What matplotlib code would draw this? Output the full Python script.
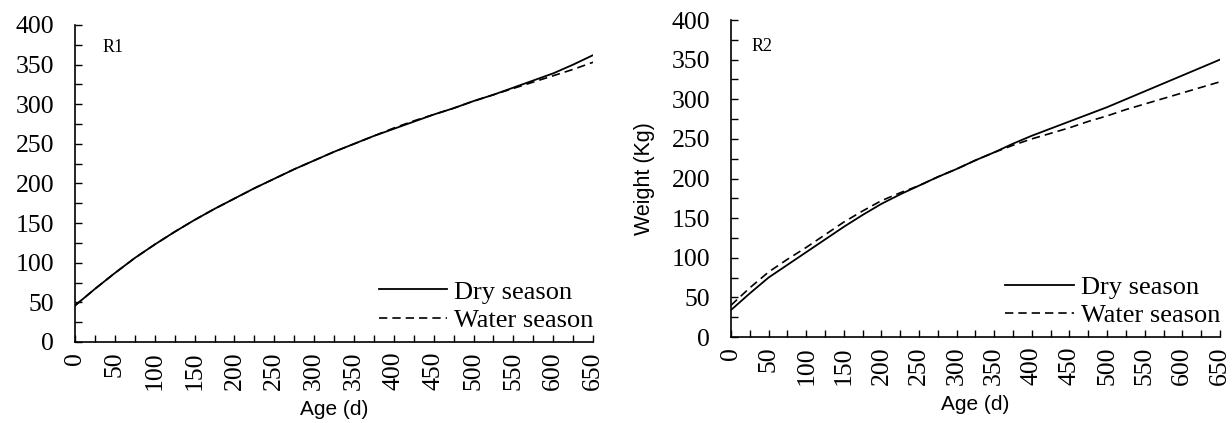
import numpy as np
import matplotlib.pyplot as plt
from matplotlib.ticker import MultipleLocator

# values every 25 days
age = list(range(0, 651, 25))

# R1 curves (nearly identical)
r1_dry = [46, 67, 87, 106, 123, 139, 154, 168, 181, 194, 206, 218, 229, 240,
          250, 260, 269, 278, 287, 295, 304, 312, 321, 330, 339, 350, 362]
r1_water = [46, 67, 87, 106, 123, 139, 154, 168, 181, 194, 206, 218, 229, 240,
            250, 260, 270, 279, 287, 295, 304, 312, 320, 328, 336, 344, 353]

# R2 curves
r2_dry = [34, 55, 75, 91, 107, 123, 139, 154, 168, 180, 191, 202, 212, 223,
          233, 244, 254, 263, 272, 281, 290, 300, 310, 320, 330, 340, 350]
r2_water = [40, 62, 82, 98, 113, 129, 145, 159, 172, 182, 191, 202, 212, 223,
            233, 242, 250, 257, 264, 272, 279, 287, 294, 301, 308, 315, 322]

panels = ["R1", "R2"]

serif = "Liberation Serif"
sans = "Liberation Sans"

fig = plt.figure(figsize=(12.32, 4.23), dpi=100)
ax1 = fig.add_axes([0.0609, 0.1915, 0.4205, 0.7494])
ax2 = fig.add_axes([0.5933, 0.2033, 0.3969, 0.7494])

data = [(ax1, r1_dry, r1_water, 34, 372), (ax2, r2_dry, r2_water, 27, 366)]
for i, (ax, dry, water, tx, ty) in enumerate(data):
    ax.plot(age, dry, color="black", lw=1.3, label="Dry season")
    ax.plot(age, water, color="black", lw=1.2, dashes=(5, 3), label="Water season")
    ax.set_xlim(0, 650)
    ax.set_ylim(0, 400)
    ax.spines["top"].set_visible(False)
    ax.spines["right"].set_visible(False)
    ax.spines["left"].set_linewidth(1.2)
    ax.spines["bottom"].set_linewidth(1.2)
    ax.xaxis.set_major_locator(MultipleLocator(50))
    ax.xaxis.set_minor_locator(MultipleLocator(25))
    ax.yaxis.set_major_locator(MultipleLocator(50))
    ax.yaxis.set_minor_locator(MultipleLocator(25))
    ax.tick_params(which="both", direction="in", length=5, width=1)
    ax.tick_params(axis="x", which="major", pad=7)
    ax.tick_params(axis="y", which="major", pad=15)
    for lab in ax.get_xticklabels():
        lab.set_family(serif)
        lab.set_fontsize(18.5)
        lab.set_rotation(90)
    for lab in ax.get_yticklabels():
        lab.set_family(serif)
        lab.set_fontsize(18.5)
    ax.set_xlabel("Age (d)", family=sans, fontsize=15, labelpad=7)
    ax.text(tx, ty, panels[i], family=serif, fontsize=13, va="center")
    ax.legend(loc="lower right", bbox_to_anchor=(1.0, 0.03), frameon=False,
              prop={"family": serif, "size": 19}, handlelength=2.6,
              handletextpad=0.25, labelspacing=0.2, borderpad=0, borderaxespad=0)

ax2.set_ylabel("Weight (Kg)", family=sans, fontsize=15.5, labelpad=12)

fig.savefig("out.png", dpi=100)
